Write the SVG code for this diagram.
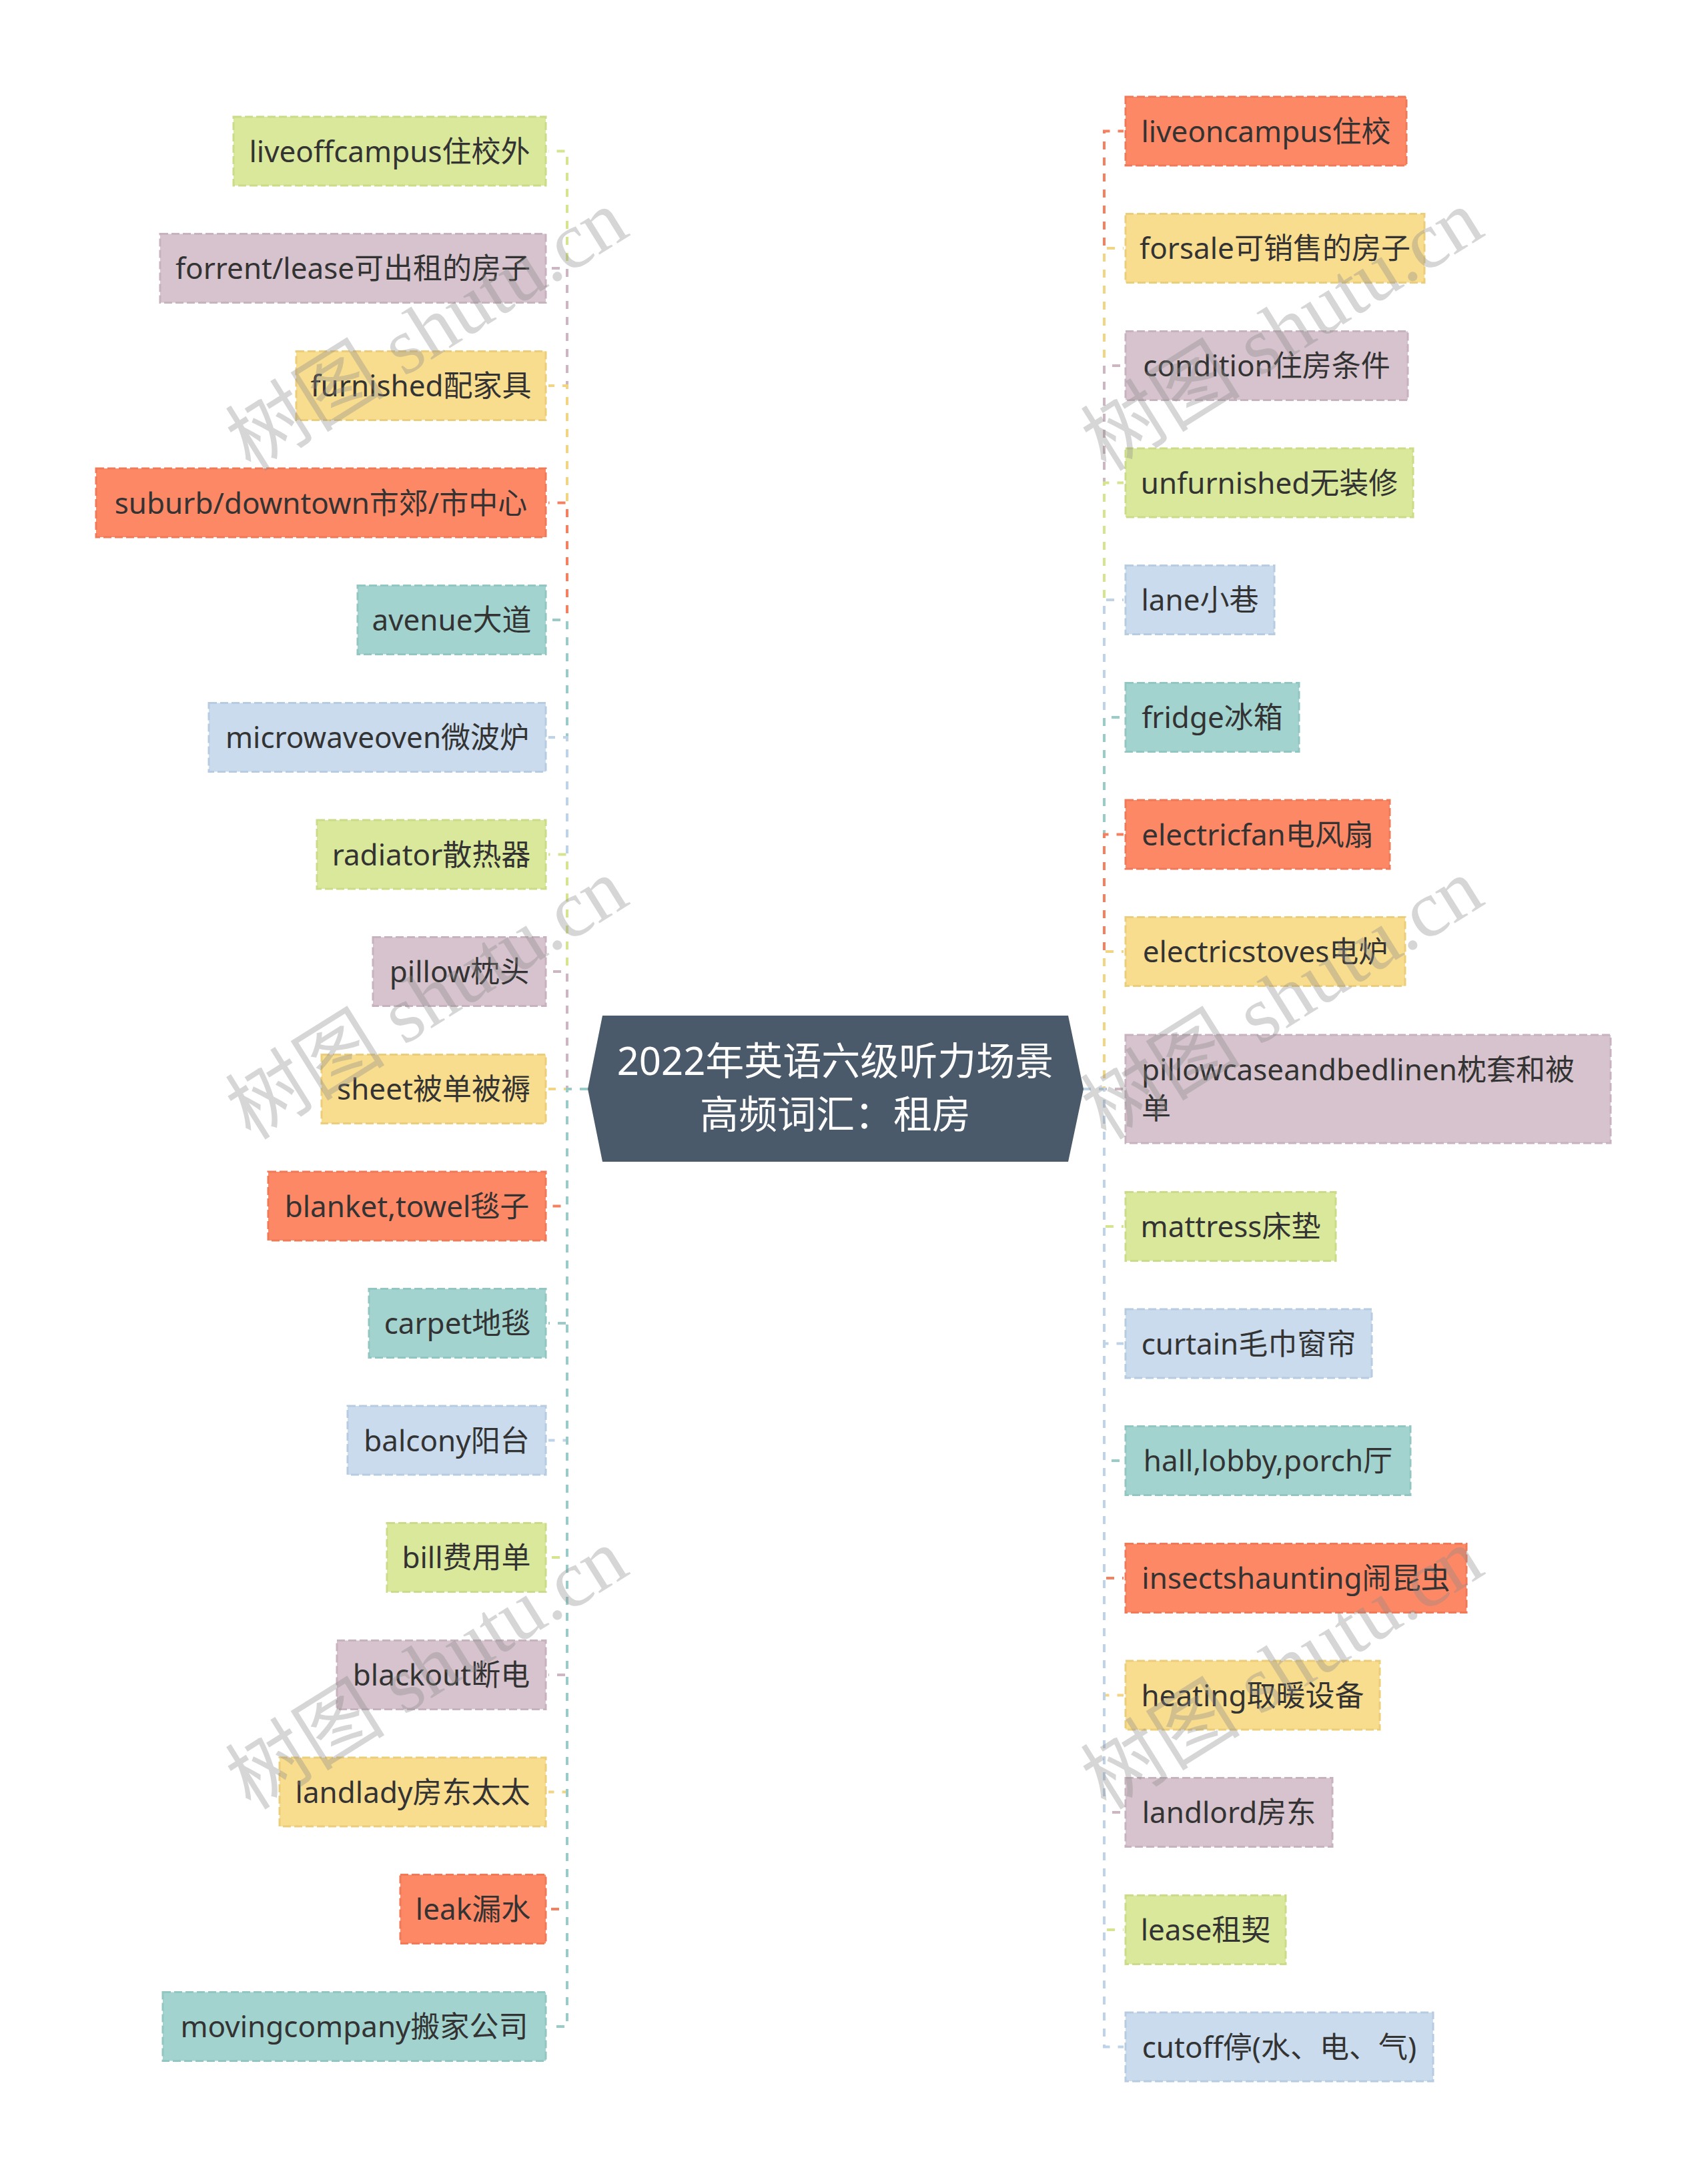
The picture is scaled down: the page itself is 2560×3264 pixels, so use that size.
<svg xmlns="http://www.w3.org/2000/svg" width="2560" height="3264" viewBox="0 0 2560 3264">
<style>
.bg{fill:#ffffff}
.n rect{stroke-width:3;stroke-dasharray:12 5}
.n text{font-family:"Noto Sans","Noto Sans CJK SC",sans-serif;font-size:44px;fill:#333333;text-anchor:middle}
.n text.st{text-anchor:start}
.g rect{fill:#dae89b;stroke:#cbdc88}
.m rect{fill:#d6c3cd;stroke:#c8b2be}
.y rect{fill:#f8dd8f;stroke:#eccd7a}
.o rect{fill:#fd8866;stroke:#f07a58}
.t rect{fill:#a3d3cf;stroke:#92c6c2}
.b rect{fill:#c9dbec;stroke:#b7cce1}
#connectors path{fill:none;stroke-width:4;stroke-dasharray:12 12}
.cg{stroke:#d4e48f}.cm{stroke:#cdb6c2}.cy{stroke:#f2d582}.co{stroke:#f5805f}.ct{stroke:#99ccc8}.cb{stroke:#bfd3e8}
#root polygon{fill:#4a5a6a}
#root text{font-family:"Noto Sans","Noto Sans CJK SC",sans-serif;font-size:58px;fill:#ffffff;text-anchor:middle}
.wm{font-family:"Liberation Serif","Noto Sans CJK SC",serif;font-size:120px;fill:#8a8a8a;fill-opacity:0.35}
</style>
<rect class="bg" x="0" y="0" width="2560" height="3264"/>
<g id="connectors">
<path class="cg" d="M881,1632 H850 V226.5 H822"/>
<path class="cm" d="M881,1632 H850 V402 H822"/>
<path class="cy" d="M881,1632 H850 V578 H822"/>
<path class="co" d="M881,1632 H850 V753.5 H822"/>
<path class="ct" d="M881,1632 H850 V929 H822"/>
<path class="cb" d="M881,1632 H850 V1105 H822"/>
<path class="cg" d="M881,1632 H850 V1280.5 H822"/>
<path class="cm" d="M881,1632 H850 V1456 H822"/>
<path class="cy" d="M881,1632 H822"/>
<path class="co" d="M881,1632 H850 V1807.5 H822"/>
<path class="ct" d="M881,1632 H850 V1983 H822"/>
<path class="cb" d="M881,1632 H850 V2158.5 H822"/>
<path class="cg" d="M881,1632 H850 V2334 H822"/>
<path class="cm" d="M881,1632 H850 V2510 H822"/>
<path class="cy" d="M881,1632 H850 V2685.5 H822"/>
<path class="co" d="M881,1632 H850 V2861 H822"/>
<path class="ct" d="M881,1632 H850 V3037 H822"/>
<path class="co" d="M1623,1632 H1655 V196.5 H1684"/>
<path class="cy" d="M1623,1632 H1655 V372 H1684"/>
<path class="cm" d="M1623,1632 H1655 V548 H1684"/>
<path class="cg" d="M1623,1632 H1655 V723.5 H1684"/>
<path class="cb" d="M1623,1632 H1655 V899 H1684"/>
<path class="ct" d="M1623,1632 H1655 V1075 H1684"/>
<path class="co" d="M1623,1632 H1655 V1250.5 H1684"/>
<path class="cy" d="M1623,1632 H1655 V1426 H1684"/>
<path class="cm" d="M1623,1632 H1684"/>
<path class="cg" d="M1623,1632 H1655 V1838 H1684"/>
<path class="cb" d="M1623,1632 H1655 V2013.5 H1684"/>
<path class="ct" d="M1623,1632 H1655 V2189 H1684"/>
<path class="co" d="M1623,1632 H1655 V2365 H1684"/>
<path class="cy" d="M1623,1632 H1655 V2540.5 H1684"/>
<path class="cm" d="M1623,1632 H1655 V2716 H1684"/>
<path class="cg" d="M1623,1632 H1655 V2892 H1684"/>
<path class="cb" d="M1623,1632 H1655 V3067.5 H1684"/>
</g>
<g id="root">
<polygon points="903,1522 1601,1522 1624,1632 1601,1741 903,1741 881,1632"/>
<text x="1252" y="1611">2022年英语六级听力场景</text>
<text x="1252" y="1691">高频词汇：租房</text>
</g>
<g id="L1" class="n g"><rect x="350" y="175" width="468" height="103"/><text x="584" y="242.5">liveoffcampus住校外</text></g>
<g id="L2" class="n m"><rect x="240" y="350.5" width="578" height="103"/><text x="529" y="418">forrent/lease可出租的房子</text></g>
<g id="L3" class="n y"><rect x="444" y="526.5" width="374" height="103"/><text x="631" y="594">furnished配家具</text></g>
<g id="L4" class="n o"><rect x="144" y="702" width="674" height="103"/><text x="481" y="769.5">suburb/downtown市郊/市中心</text></g>
<g id="L5" class="n t"><rect x="536" y="877.5" width="282" height="103"/><text x="677" y="945">avenue大道</text></g>
<g id="L6" class="n b"><rect x="313" y="1053.5" width="505" height="103"/><text x="565.5" y="1121">microwaveoven微波炉</text></g>
<g id="L7" class="n g"><rect x="475" y="1229" width="343" height="103"/><text x="646.5" y="1296.5">radiator散热器</text></g>
<g id="L8" class="n m"><rect x="559" y="1404.5" width="259" height="103"/><text x="688.5" y="1472">pillow枕头</text></g>
<g id="L9" class="n y"><rect x="482" y="1580.5" width="336" height="103"/><text x="650" y="1648">sheet被单被褥</text></g>
<g id="L10" class="n o"><rect x="402" y="1756" width="416" height="103"/><text x="610" y="1823.5">blanket,towel毯子</text></g>
<g id="L11" class="n t"><rect x="553" y="1931.5" width="265" height="103"/><text x="685.5" y="1999">carpet地毯</text></g>
<g id="L12" class="n b"><rect x="521" y="2107" width="297" height="103"/><text x="669.5" y="2174.5">balcony阳台</text></g>
<g id="L13" class="n g"><rect x="580" y="2282.5" width="238" height="103"/><text x="699" y="2350">bill费用单</text></g>
<g id="L14" class="n m"><rect x="505" y="2458.5" width="313" height="103"/><text x="661.5" y="2526">blackout断电</text></g>
<g id="L15" class="n y"><rect x="419" y="2634" width="399" height="103"/><text x="618.5" y="2701.5">landlady房东太太</text></g>
<g id="L16" class="n o"><rect x="600" y="2809.5" width="218" height="103"/><text x="709" y="2877">leak漏水</text></g>
<g id="L17" class="n t"><rect x="244" y="2985.5" width="574" height="103"/><text x="531" y="3053">movingcompany搬家公司</text></g>
<g id="R1" class="n o"><rect x="1687" y="145" width="421" height="103"/><text x="1897.5" y="212.5">liveoncampus住校</text></g>
<g id="R2" class="n y"><rect x="1687" y="320.5" width="448" height="103"/><text x="1911" y="388">forsale可销售的房子</text></g>
<g id="R3" class="n m"><rect x="1687" y="496.5" width="423" height="103"/><text x="1898.5" y="564">condition住房条件</text></g>
<g id="R4" class="n g"><rect x="1687" y="672" width="431" height="103"/><text x="1902.5" y="739.5">unfurnished无装修</text></g>
<g id="R5" class="n b"><rect x="1687" y="847.5" width="223" height="103"/><text x="1798.5" y="915">lane小巷</text></g>
<g id="R6" class="n t"><rect x="1687" y="1023.5" width="260" height="103"/><text x="1817" y="1091">fridge冰箱</text></g>
<g id="R7" class="n o"><rect x="1687" y="1199" width="396" height="103"/><text x="1885" y="1266.5">electricfan电风扇</text></g>
<g id="R8" class="n y"><rect x="1687" y="1374.5" width="419" height="103"/><text x="1896.5" y="1442">electricstoves电炉</text></g>
<g id="R9" class="n m"><rect x="1687" y="1551" width="727" height="162"/><text class="st" x="1711" y="1619">pillowcaseandbedlinen枕套和被</text><text class="st" x="1711" y="1677">单</text></g>
<g id="R10" class="n g"><rect x="1687" y="1786.5" width="315" height="103"/><text x="1844.5" y="1854">mattress床垫</text></g>
<g id="R11" class="n b"><rect x="1687" y="1962" width="369" height="103"/><text x="1871.5" y="2029.5">curtain毛巾窗帘</text></g>
<g id="R12" class="n t"><rect x="1687" y="2137.5" width="427" height="103"/><text x="1900.5" y="2205">hall,lobby,porch厅</text></g>
<g id="R13" class="n o"><rect x="1687" y="2313.5" width="511" height="103"/><text x="1942.5" y="2381">insectshaunting闹昆虫</text></g>
<g id="R14" class="n y"><rect x="1687" y="2489" width="381" height="103"/><text x="1877.5" y="2556.5">heating取暖设备</text></g>
<g id="R15" class="n m"><rect x="1687" y="2664.5" width="310" height="103"/><text x="1842" y="2732">landlord房东</text></g>
<g id="R16" class="n g"><rect x="1687" y="2840.5" width="240" height="103"/><text x="1807" y="2908">lease租契</text></g>
<g id="R17" class="n b"><rect x="1687" y="3016" width="461" height="103"/><text x="1917.5" y="3083.5">cutoff停(水、电、气)</text></g>
<g id="watermark">
<text class="wm" transform="translate(376,708) rotate(-32)">树图 shutu.cn</text>
<text class="wm" transform="translate(376,1710) rotate(-32)">树图 shutu.cn</text>
<text class="wm" transform="translate(376,2714) rotate(-32)">树图 shutu.cn</text>
<text class="wm" transform="translate(1658,708) rotate(-32)">树图 shutu.cn</text>
<text class="wm" transform="translate(1658,1710) rotate(-32)">树图 shutu.cn</text>
<text class="wm" transform="translate(1658,2714) rotate(-32)">树图 shutu.cn</text>
</g>
</svg>
